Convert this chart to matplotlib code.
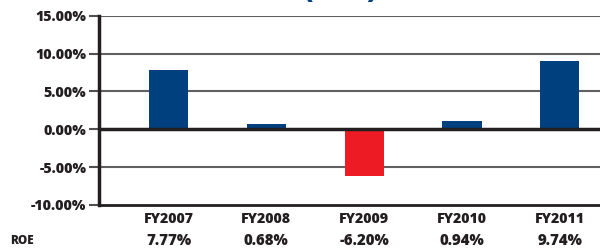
import matplotlib
matplotlib.use("Agg")
import matplotlib.pyplot as plt
from matplotlib.ticker import FuncFormatter

years = ["FY2007", "FY2008", "FY2009", "FY2010", "FY2011"]
roe_bars = [7.85, 0.70, -6.22, 1.09, 8.97]          # bar heights as drawn in the picture
roe_labels = ["7.77%", "0.68%", "-6.20%", "0.94%", "9.74%"]  # printed values
yticks = [-10, -5, 0, 5, 10, 15]
row_label = "ROE"
title = "(ROE)"

BLUE = "#00407F"
RED = "#ED1C24"
INK = "#231F20"
FONT = ["Open Sans", "DejaVu Sans"]
plt.rcParams["font.family"] = FONT

fig = plt.figure(figsize=(6, 2.5), dpi=100)
ax = fig.add_axes([99/600, 1-205/250, 1-99/600, (205-15.7)/250])

colors = [RED if v < 0 else BLUE for v in roe_bars]
x = list(range(len(years)))
ax.bar(x, roe_bars, width=0.4, color=colors, zorder=3)

ax.set_ylim(-10, 15)
ax.set_xlim(-0.71, 4.41)
ax.set_yticks(yticks)
ax.yaxis.set_major_formatter(FuncFormatter(lambda v, p: f"{v:.2f}%"))
for t in yticks:
    if t == 0:
        ax.axhline(t, color=INK, lw=2.5, zorder=4)
    elif t == -10:
        ax.axhline(t, color=INK, lw=2.0, zorder=2, clip_on=False)
    else:
        ax.axhline(t, color="#606060", lw=1.5, zorder=1)

for s in ["top", "right", "bottom"]:
    ax.spines[s].set_visible(False)
ax.spines["left"].set_linewidth(2.5)
ax.spines["left"].set_color(INK)
ax.tick_params(axis="y", length=7, width=1.5, color="#505050", labelsize=10.3, pad=2)
for lab in ax.get_yticklabels():
    lab.set_fontweight("heavy")
    lab.set_color(INK)
ax.set_xticks([])

for xi, yr, lbl in zip(x, years, roe_labels):
    ax.annotate(yr, xy=(xi, 0), xycoords=("data", "figure fraction"),
                xytext=(0, 1-219/250), textcoords=("offset points", "figure fraction"),
                ha="center", va="center", fontsize=10.2, fontweight="heavy", color=INK)
    ax.annotate(lbl, xy=(xi, 0), xycoords=("data", "figure fraction"),
                xytext=(0, 1-241/250), textcoords=("offset points", "figure fraction"),
                ha="center", va="center", fontsize=10.8, fontweight="heavy", color=INK)
fig.text(22/600, 1-241/250, row_label, ha="center", va="center", fontsize=8.5,
         fontweight="heavy", color=INK)

fig.text(340/600, 1+2.5/250, title, ha="center", va="baseline", fontsize=19,
         fontweight="heavy", color=BLUE)

fig.savefig("out.png", dpi=100)
